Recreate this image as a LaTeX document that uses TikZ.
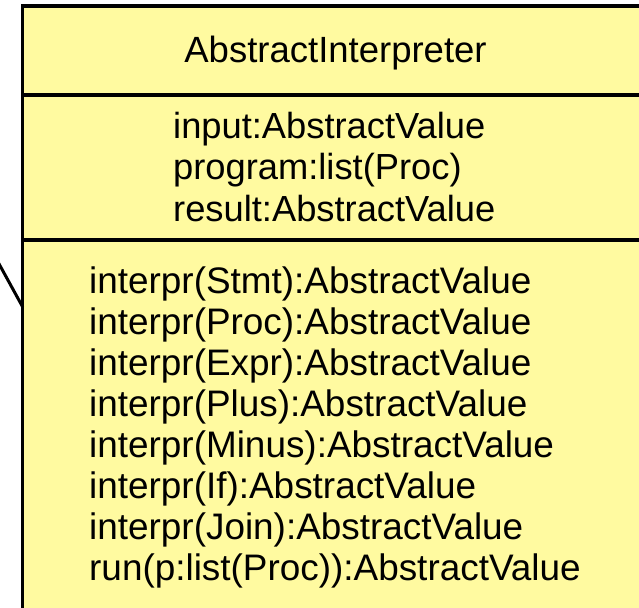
\documentclass[tikz,border=0pt]{standalone}
\usepackage{fontspec}
\setmainfont{Liberation Sans}
\definecolor{umlfill}{RGB}{255,250,160}
\begin{document}
\begin{tikzpicture}[x=1pt,y=-1pt,
  border/.style={line width=3.4pt,draw=black},
  conn/.style={line width=3pt,draw=black},
  head/.style={inner sep=0pt,anchor=base,font=\fontsize{36.5}{41.5}\selectfont},
  attr/.style={inner sep=0pt,anchor=base west,font=\fontsize{36.3}{41.5}\selectfont},
  meth/.style={inner sep=0pt,anchor=base west,font=\fontsize{36.9}{41}\selectfont},
]
\useasboundingbox (0,0) rectangle (639,607);
\clip (0,0) rectangle (639,607);
\fill[white] (0,0) rectangle (639,607);
% class box
\coordinate (tl) at (22.7,6.2);
\coordinate (tr) at (660,6.2);
\coordinate (bl) at (22.7,630);
\coordinate (d1l) at (22.7,95);
\coordinate (d1r) at (660,95);
\coordinate (d2l) at (22.7,240);
\coordinate (d2r) at (660,240);
\fill[umlfill] (tl) rectangle (660,630);
\draw[border] (bl) -- (tl) -- (tr);
\draw[border] (d1l) -- (d1r);
\draw[border] (d2l) -- (d2r);
% connector entering from the left
\coordinate (cfar) at (-2,262);
\coordinate (cnear) at (22.7,307);
\draw[conn] (cfar) -- (cnear);
% title
\node[head] (title) at (335.5,63) {AbstractInterpreter};
% attributes
\node[attr] (a1) at (173,138) {input:AbstractValue};
\node[attr] (a2) at (173,179.5) {program:list(Proc)};
\node[attr] (a3) at (173,221) {result:AbstractValue};
% methods
\node[meth] (m1) at (89,293) {interpr(Stmt):AbstractValue};
\node[meth] (m2) at (89,334) {interpr(Proc):AbstractValue};
\node[meth] (m3) at (89,375) {interpr(Expr):AbstractValue};
\node[meth] (m4) at (89,416) {interpr(Plus):AbstractValue};
\node[meth] (m5) at (89,457) {interpr(Minus):AbstractValue};
\node[meth] (m6) at (89,498) {interpr(If):AbstractValue};
\node[meth] (m7) at (89,539) {interpr(Join):AbstractValue};
\node[meth] (m8) at (89,580) {run(p:list(Proc)):AbstractValue};
\end{tikzpicture}
\end{document}
